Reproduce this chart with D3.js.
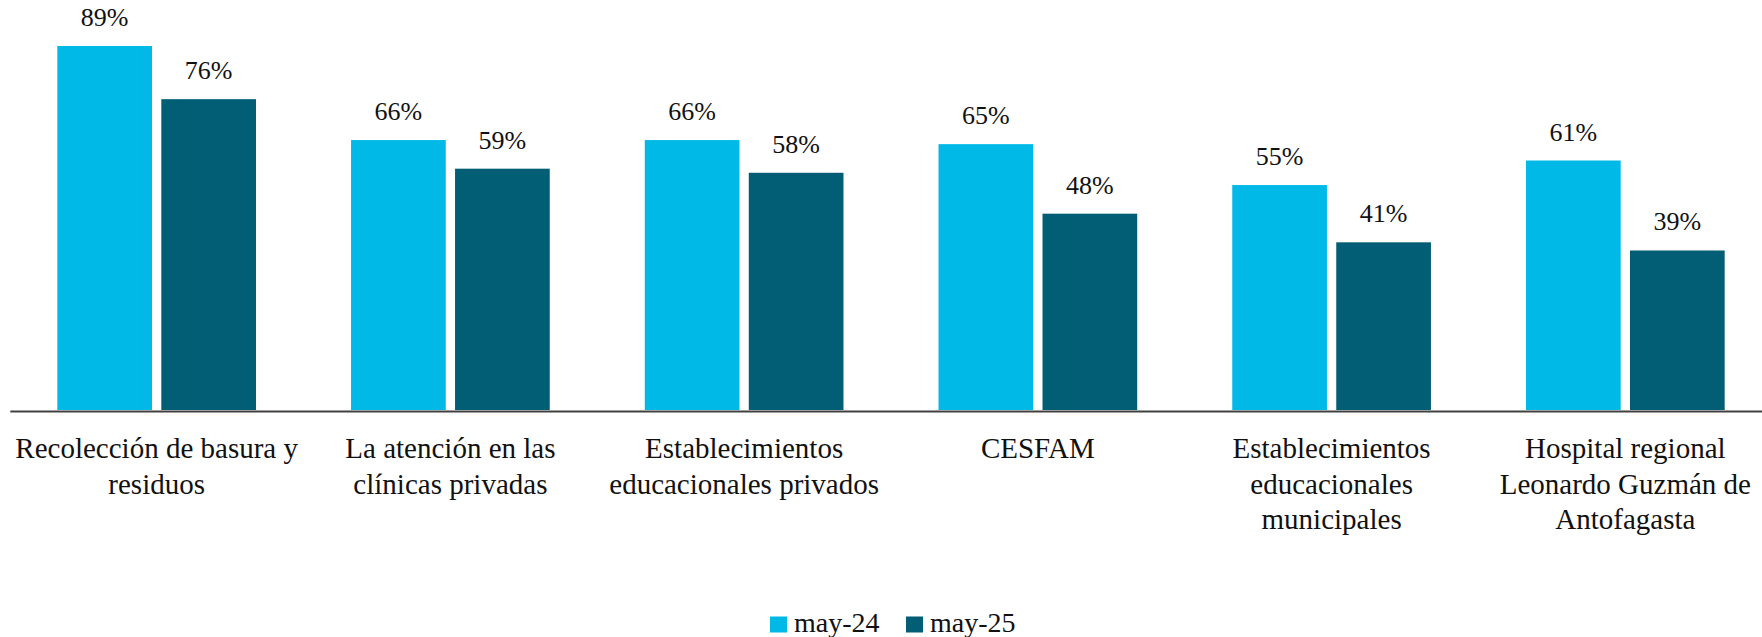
<!DOCTYPE html>
<html>
<head>
<meta charset="utf-8">
<script src="https://cdn.jsdelivr.net/npm/d3@7"></script>
<style>
  html, body { margin: 0; padding: 0; background: #ffffff; }
  svg { display: block; }
</style>
</head>
<body>
<svg id="chart" width="1762" height="637"></svg>
<script>
// ---- data ----
const categories = [
  "Recolección de basura y residuos",
  "La atención en las clínicas privadas",
  "Establecimientos educacionales privados",
  "CESFAM",
  "Establecimientos educacionales municipales",
  "Hospital regional Leonardo Guzmán de Antofagasta"
];
const categoryLines = [
  ["Recolección de basura y", "residuos"],
  ["La atención en las", "clínicas privadas"],
  ["Establecimientos", "educacionales privados"],
  ["CESFAM"],
  ["Establecimientos", "educacionales", "municipales"],
  ["Hospital regional", "Leonardo Guzmán de", "Antofagasta"]
];
const seriesNames = ["may-24", "may-25"];
const may24 = [89, 66, 66, 65, 55, 61];
const may25 = [76, 59, 58, 48, 41, 39];
const seriesColors = ["#00B9E7", "#025E75"];

const seriesValues = [may24, may25];
const rows = categories.map((c, i) => ({
  cat: c,
  lines: categoryLines[i],
  vals: seriesNames.map((s, j) => ({ key: s, value: seriesValues[j][i] }))
}));

const FONT = "Liberation Serif";

// ---- layout ----
const svg = d3.select("#chart");
const x0 = d3.scaleBand().domain(categories).range([9.8, 1772.2]).padding(0);
const x1 = d3.scaleBand().domain(seriesNames).range([0, x0.bandwidth()])
  .paddingInner(0.0894).paddingOuter(0.457);
const y = d3.scaleLinear().domain([0, 100]).range([410, 1]);
const color = d3.scaleOrdinal().domain(seriesNames).range(seriesColors);

// bars
const g = svg.append("g");
const groups = g.selectAll("g.grp").data(rows).join("g")
  .attr("class", "grp")
  .attr("transform", d => `translate(${x0(d.cat)},0)`);

groups.selectAll("rect").data(d => d.vals).join("rect")
  .attr("x", d => x1(d.key))
  .attr("y", d => y(d.value))
  .attr("width", x1.bandwidth())
  .attr("height", d => y(0) - y(d.value))
  .attr("fill", d => color(d.key));

groups.selectAll("text.val").data(d => d.vals).join("text")
  .attr("class", "val")
  .attr("x", d => x1(d.key) + x1.bandwidth() / 2)
  .attr("y", d => y(d.value) - 20)
  .attr("text-anchor", "middle")
  .style("font-family", FONT)
  .attr("font-size", 26)
  .attr("fill", "#111111")
  .text(d => d.value + "%");

// x axis
const axis = svg.append("g")
  .attr("transform", `translate(0,${y(0) + 1})`)
  .call(d3.axisBottom(x0).tickSize(0).tickSizeOuter(0));
axis.select(".domain").attr("stroke", "#404040").attr("stroke-width", 2);
axis.selectAll(".tick text").remove();

axis.selectAll(".tick").each(function(d) {
  const row = rows.find(r => r.cat === d);
  const t = d3.select(this).append("text")
    .attr("text-anchor", "middle")
    .attr("y", 47)
    .style("font-family", FONT)
    .attr("font-size", 29)
    .attr("fill", "#111111");
  row.lines.forEach((ln, i) => {
    t.append("tspan").attr("x", 0).attr("y", 47 + i * 35.5).text(ln);
  });
});

// legend
const legendX = [770, 906];
const legend = svg.append("g");
seriesNames.forEach((s, i) => {
  legend.append("rect")
    .attr("x", legendX[i]).attr("y", 616.5)
    .attr("width", 17).attr("height", 16)
    .attr("fill", color(s));
  legend.append("text")
    .attr("x", legendX[i] + 24).attr("y", 631.5)
    .style("font-family", FONT)
    .attr("font-size", 28)
    .attr("fill", "#111111")
    .text(s);
});
</script>
</body>
</html>
